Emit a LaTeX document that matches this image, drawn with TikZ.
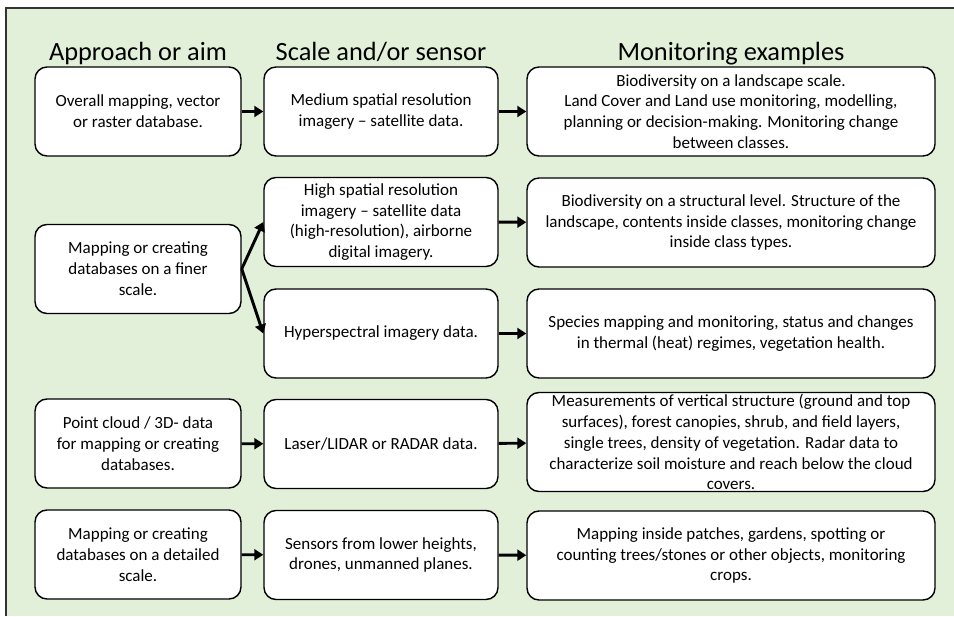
\documentclass[tikz,border=0pt]{standalone}
\usepackage{fontspec}
\setmainfont{Carlito}
\usetikzlibrary{arrows.meta}
\definecolor{panelgreen}{HTML}{E2F0D9}

\begin{document}
\begin{tikzpicture}[x=0.03cm, y=-0.03cm,
  box/.style={draw=black, line width=1.2pt, fill=white, rounded corners=0.36cm,
    align=center, inner sep=0pt, minimum height=2.67cm,
    font=\fontsize{14.5}{17.8}\selectfont},
  arr/.style={line width=2.5pt, -{Triangle[length=0.27cm, width=0.33cm]}},
  head/.style={anchor=base, font=\fontsize{22.5}{27}\selectfont}]
\useasboundingbox (0,0) rectangle (954,616);
\fill[panelgreen] (6,8) rectangle (954,616);
\draw[line width=1.5pt, black!80] (6,616) -- (6,8) -- (954,8);

\def\a{138}
\def\b{381}
\def\c{731}

\node[head] (ha) at (\a, 60) {Approach or aim};
\node[head] (hb) at (\b, 60) {Scale and/or sensor};
\node[head] (hc) at (\c, 60) {Monitoring examples};

% first row
\node[box, minimum width=6.18cm] (map) at (\a, 111.5) {Overall mapping, vector\\or raster database.};
\node[box, minimum width=7.02cm] (medium) at (\b, 111.5) {Medium spatial resolution\\imagery – satellite data.};
\node[box, minimum width=12.24cm] (landscape) at (\c, 111.5) {Biodiversity on a landscape scale.\\Land Cover and Land use monitoring, modelling,\\planning or decision-making. Monitoring change\\between classes.};

% finer scale
\node[box, minimum width=6.18cm] (finer) at (\a, 269) {Mapping or creating\\databases on a finer\\scale.};
\node[box, minimum width=7.02cm] (high) at (\b, 222) {High spatial resolution\\imagery – satellite data\\(high-resolution), airborne\\digital imagery.};
\node[box, minimum width=7.02cm] (hyper) at (\b, 333.5) {Hyperspectral imagery data.};
\node[box, minimum width=12.24cm] (structural) at (\c, 222.5) {Biodiversity on a structural level. Structure of the\\landscape, contents inside classes, monitoring change\\inside class types.};
\node[box, minimum width=12.24cm] (species) at (\c, 333.5) {Species mapping and monitoring, status and changes\\in thermal (heat) regimes, vegetation health.};

% point cloud
\node[box, minimum width=6.18cm] (cloud) at (\a, 443.5) {Point cloud / 3D- data\\for mapping or creating\\databases.};
\node[box, minimum width=7.02cm] (lidar) at (\b, 444) {Laser/LIDAR or RADAR data.};
\node[box, minimum width=12.24cm, minimum height=2.97cm] (vertical) at (\c, 442) {Measurements of vertical structure (ground and top\\surfaces), forest canopies, shrub, and field layers,\\single trees, density of vegetation. Radar data to\\characterize soil moisture and reach below the cloud\\covers.};

% detailed scale
\node[box, minimum width=6.18cm] (detailed) at (\a, 554.5) {Mapping or creating\\databases on a detailed\\scale.};
\node[box, minimum width=7.02cm] (drones) at (\b, 555) {Sensors from lower heights,\\drones, unmanned planes.};
\node[box, minimum width=12.24cm] (crops) at (\c, 555.5) {Mapping inside patches, gardens, spotting or\\counting trees/stones or other objects, monitoring\\crops.};

\draw[arr] (map) -- (medium);
\draw[arr] (medium) -- (landscape);
\draw[arr] (finer.east) -- (high.west);
\draw[arr] (finer.east) -- (hyper.west);
\draw[arr] (high) -- (structural);
\draw[arr] (hyper) -- (species);
\draw[arr] (cloud) -- (lidar);
\draw[arr] (lidar) -- (vertical);
\draw[arr] (detailed) -- (drones);
\draw[arr] (drones) -- (crops);

\end{tikzpicture}
\end{document}
